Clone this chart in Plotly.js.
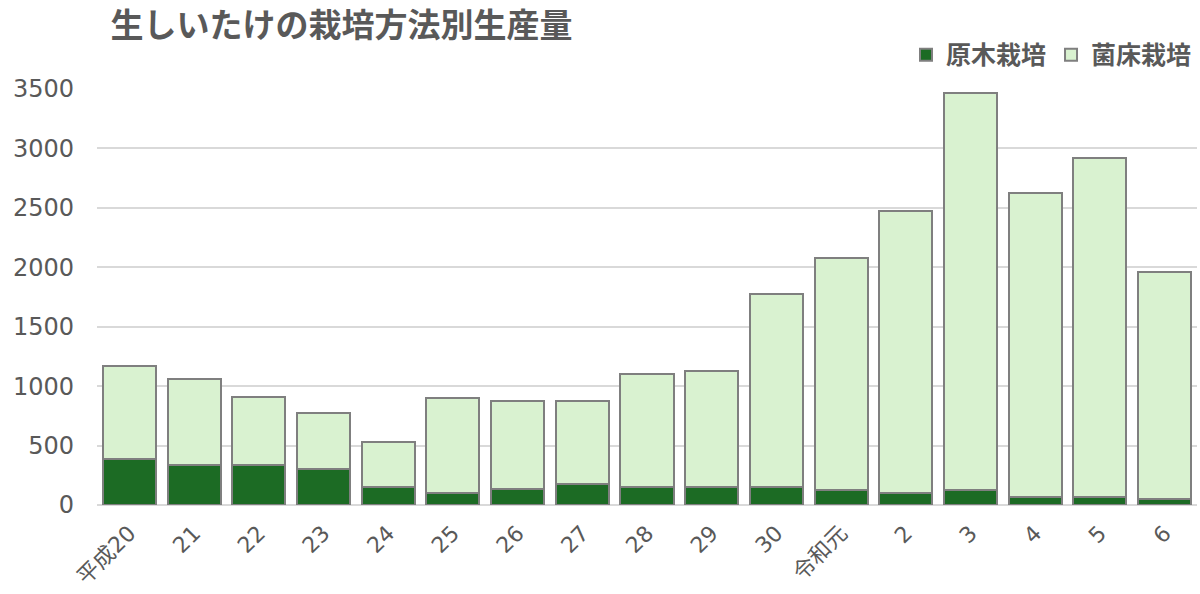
<!DOCTYPE html>
<html><head><meta charset="utf-8">
<script src="https://cdn.plot.ly/plotly-3.0.1.min.js"></script>
<style>html,body{margin:0;padding:0;background:#fff}#c{width:1200px;height:594px}</style>
</head><body><div id="c"></div>
<script>
const categories = ["平成20","21","22","23","24","25","26","27","28","29","30","令和元","2","3","4","5","6"];
const genboku = [388,340,338,300,152,101,132,177,155,153,150,130,100,130,67,67,50];
const kinsho_total = [1172,1061,909,775,530,901,876,876,1103,1128,1777,2080,2475,3469,2627,2922,1962];
const kinsho = kinsho_total.map((t,i)=>t-genboku[i]);
const font = "'Noto Sans CJK JP', 'Noto Sans', sans-serif";
const tickFont = "'DejaVu Sans', 'Noto Sans CJK JP', sans-serif";
const traces = [
 {type:'bar', name:'原木栽培', x:categories, y:genboku,
  marker:{color:'#1c6b24', line:{color:'#7f7f7f', width:2}}},
 {type:'bar', name:'菌床栽培', x:categories, y:kinsho,
  marker:{color:'#d9f2d0', line:{color:'#7f7f7f', width:2}}}
];
const layout = {
 width:1200, height:594,
 margin:{l:97, r:3, t:89, b:89},
 barmode:'stack', bargap:0.18,
 paper_bgcolor:'#fff', plot_bgcolor:'#fff',
 font:{family:font, color:'#595959', size:18},
 title:{text:'<b>生しいたけの栽培方法別生産量</b>', x:0.092, xanchor:'left', y:0.957, yanchor:'middle',
   font:{family:font, size:33, color:'#595959'}},
 showlegend:true,
 legend:{orientation:'h', x:1, xanchor:'right', y:1.082, yanchor:'middle',
   font:{family:font, size:25, color:'#595959', weight:'bold'}, traceorder:'normal', itemwidth:30},
 xaxis:{type:'category', tickangle:-45, showgrid:false, showline:false, ticks:'',
   tickfont:{family:tickFont, size:22, color:'#595959'}, ticklabelstandoff:10, automargin:false},
 yaxis:{range:[0,3500], dtick:500, showgrid:true, gridcolor:'#d9d9d9', gridwidth:2,
   zeroline:true, zerolinecolor:'#d9d9d9', zerolinewidth:2, showline:false, ticks:'',
   tickfont:{family:tickFont, size:24, color:'#595959'}, ticklabelstandoff:22, automargin:false}
};
Plotly.newPlot('c', traces, layout, {displayModeBar:false, staticPlot:true});
</script></body></html>
